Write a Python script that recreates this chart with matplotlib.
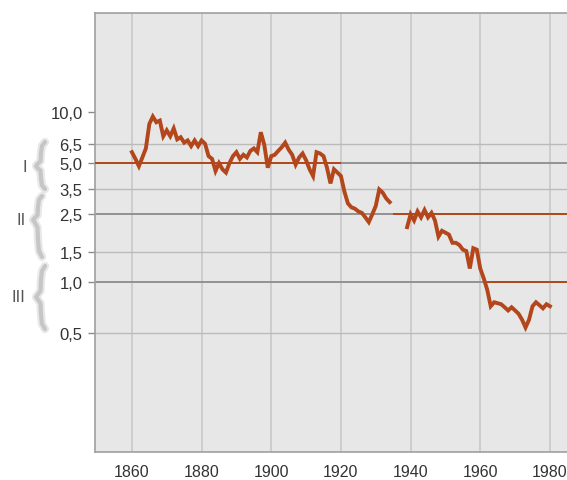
import numpy as np
import matplotlib
matplotlib.use("Agg")
import matplotlib.pyplot as plt
from matplotlib.ticker import FixedLocator, FixedFormatter, NullLocator
from matplotlib.lines import Line2D

plt.rcParams['font.family'] = ['Liberation Sans', 'DejaVu Sans']

# Series, first period (1860-1934)
years_a = list(range(1860, 1935))
values_a = [5.8, 5.3, 4.8, 5.4, 6.1, 8.5, 9.4, 8.7, 8.9, 7.2,
            7.8, 7.2, 8.0, 6.9, 7.1, 6.6, 6.8, 6.3, 6.8, 6.3,
            6.8, 6.5, 5.5, 5.3, 4.5, 5.0, 4.6, 4.4, 5.0, 5.5,
            5.8, 5.3, 5.6, 5.4, 5.9, 6.1, 5.8, 7.6, 6.4, 4.7,
            5.5, 5.6, 5.9, 6.2, 6.6, 6.0, 5.6, 4.9, 5.4, 5.7,
            5.2, 4.6, 4.2, 5.8, 5.7, 5.5, 4.7, 3.8, 4.6, 4.4,
            4.2, 3.4, 2.9, 2.75, 2.7, 2.6, 2.55, 2.4, 2.25, 2.5,
            2.8, 3.5, 3.35, 3.1, 2.95]

# Series, second period (1939-1980)
years_b = list(range(1939, 1981))
values_b = [2.1, 2.5, 2.3, 2.6, 2.4, 2.65, 2.4, 2.55, 2.3, 1.85,
            2.0, 1.95, 1.9, 1.7, 1.7, 1.65, 1.55, 1.52, 1.2, 1.58,
            1.55, 1.2, 1.05, 0.9, 0.72, 0.76, 0.75, 0.74, 0.71, 0.68,
            0.71, 0.68, 0.65, 0.6, 0.54, 0.6, 0.72, 0.76, 0.73, 0.70,
            0.74, 0.72]

ytick_values = [10.0, 6.5, 5.0, 3.5, 2.5, 1.5, 1.0, 0.5]
ytick_labels = ["10,0", "6,5", "5,0", "3,5", "2,5", "1,5", "1,0", "0,5"]
xtick_values = [1860, 1880, 1900, 1920, 1940, 1960, 1980]

# Threshold levels and the years over which each one applies
levels = [5.0, 2.5, 1.0]
level_starts = [1849.4, 1935, 1962]
level_ends = [1920, 1985, 1985]
level_names = ["I", "II", "III"]

brown = "#b3461b"
W, H = 567, 481
fig = plt.figure(figsize=(W / 100, H / 100), dpi=100)
fig.patch.set_facecolor("white")
ax = fig.add_axes([95 / W, 1 - 453 / H, (567 - 95) / W, (453 - 14) / H])
ax.set_facecolor("#e7e7e7")
ax.set_yscale("log")
ax.set_xlim(1849.4, 1984.9)
ax.set_ylim(0.1, 38.2)

# grid
for x in xtick_values:
    ax.axvline(x, color="#c8c8c8", lw=1.2, zorder=1)
for v in ytick_values:
    if v in levels:
        ax.axhline(v, color="#8c8c8c", lw=1.3, zorder=2)
    elif v != 10.0:
        ax.axhline(v, color="#bababa", lw=1.0, zorder=1)

for v, x0, x1 in zip(levels, level_starts, level_ends):
    ax.plot([x0, x1], [v, v], color=brown, lw=1.4, zorder=3, solid_capstyle="butt")

ax.plot(years_a, values_a, color=brown, lw=2.8, zorder=4, solid_joinstyle="miter")
ax.plot(years_b, values_b, color=brown, lw=2.8, zorder=4, solid_joinstyle="miter")

ax.yaxis.set_major_locator(FixedLocator(ytick_values))
ax.yaxis.set_major_formatter(FixedFormatter(ytick_labels))
ax.yaxis.set_minor_locator(NullLocator())
ax.xaxis.set_major_locator(FixedLocator(xtick_values))
ax.xaxis.set_minor_locator(NullLocator())
ax.tick_params(axis="y", length=5, width=1, color="#8a8a8a", pad=4,
               labelsize=12, labelcolor="#333333")
ax.tick_params(axis="x", length=0, pad=9, labelsize=11.5, labelcolor="#333333")

for side in ["left", "top", "bottom"]:
    ax.spines[side].set_color("#a0a0a0")
    ax.spines[side].set_linewidth(1.2)
ax.spines["right"].set_visible(False)

# Class labels with braces on the left margin
def brace(ytop, ymid, ybot, xtip):
    rel = [(9, ytop), (6, ytop + 0.16 * (ymid - ytop)), (5, ytop + 0.45 * (ymid - ytop)),
           (4.5, ytop + 0.8 * (ymid - ytop)), (1.5, ymid - 2), (0, ymid), (1.5, ymid + 2),
           (4.5, ymid + 0.2 * (ybot - ymid)), (5, ymid + 0.55 * (ybot - ymid)),
           (6, ymid + 0.84 * (ybot - ymid)), (9, ybot)]
    xs = [(xtip + dx) / W for dx, _ in rel]
    ys = [1 - y / H for _, y in rel]
    fig.add_artist(Line2D(xs, ys, color="#dadada", lw=6, alpha=0.6,
                          solid_capstyle="round", solid_joinstyle="round"))
    fig.add_artist(Line2D(xs, ys, color="#c6c6c6", lw=3,
                          solid_capstyle="round", solid_joinstyle="round"))

brace(143, 167, 190, 36)
brace(197, 221, 258, 33)
brace(267, 298, 330, 36)

label_pos = [(25, 167), (21, 221), (18, 298)]
for name, (px, py) in zip(level_names, label_pos):
    fig.text(px / W, 1 - py / H, name, ha="center", va="center",
             fontsize=12, color="#555555", family=["Liberation Sans Narrow", "Liberation Sans", "DejaVu Sans"])

fig.savefig("out.png", dpi=100, facecolor="white")
